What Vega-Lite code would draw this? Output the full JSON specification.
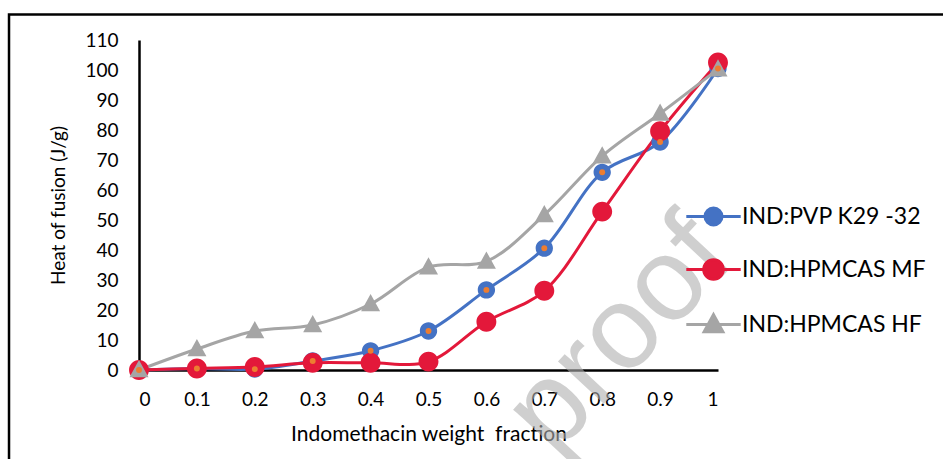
{
  "$schema": "https://vega.github.io/schema/vega-lite/v6.json",
  "width": 579,
  "height": 330,
  "autosize": "none",
  "padding": {"left": 139, "top": 40, "right": 225, "bottom": 89},
  "background": "white",
  "config": {
    "view": {"stroke": null},
    "font": "Lato",
    "axis": {"grid": false, "ticks": false, "domainColor": "black", "domainWidth": 2.5, "labelColor": "black", "titleColor": "black", "labelFont": "Lato", "titleFont": "Lato", "titleFontWeight": "normal", "labelOverlap": false}
  },
  "datasets": {
    "main": [
      {"series": "IND:PVP K29 -32", "x": 0, "y": 0},
      {"series": "IND:PVP K29 -32", "x": 0.1, "y": 0.5},
      {"series": "IND:PVP K29 -32", "x": 0.2, "y": 0.3},
      {"series": "IND:PVP K29 -32", "x": 0.3, "y": 3},
      {"series": "IND:PVP K29 -32", "x": 0.4, "y": 6.4},
      {"series": "IND:PVP K29 -32", "x": 0.5, "y": 13},
      {"series": "IND:PVP K29 -32", "x": 0.6, "y": 26.7},
      {"series": "IND:PVP K29 -32", "x": 0.7, "y": 40.6},
      {"series": "IND:PVP K29 -32", "x": 0.8, "y": 65.9},
      {"series": "IND:PVP K29 -32", "x": 0.9, "y": 76},
      {"series": "IND:PVP K29 -32", "x": 1, "y": 100.5},
      {"series": "IND:HPMCAS MF", "x": 0, "y": 0},
      {"series": "IND:HPMCAS MF", "x": 0.1, "y": 0.5},
      {"series": "IND:HPMCAS MF", "x": 0.2, "y": 1},
      {"series": "IND:HPMCAS MF", "x": 0.3, "y": 2.4},
      {"series": "IND:HPMCAS MF", "x": 0.4, "y": 2.4},
      {"series": "IND:HPMCAS MF", "x": 0.5, "y": 2.8},
      {"series": "IND:HPMCAS MF", "x": 0.6, "y": 16.1},
      {"series": "IND:HPMCAS MF", "x": 0.7, "y": 26.4},
      {"series": "IND:HPMCAS MF", "x": 0.8, "y": 52.8},
      {"series": "IND:HPMCAS MF", "x": 0.9, "y": 79.6},
      {"series": "IND:HPMCAS MF", "x": 1, "y": 102.5},
      {"series": "IND:HPMCAS HF", "x": 0, "y": 0},
      {"series": "IND:HPMCAS HF", "x": 0.1, "y": 7},
      {"series": "IND:HPMCAS HF", "x": 0.2, "y": 13},
      {"series": "IND:HPMCAS HF", "x": 0.3, "y": 15},
      {"series": "IND:HPMCAS HF", "x": 0.4, "y": 22},
      {"series": "IND:HPMCAS HF", "x": 0.5, "y": 34.3},
      {"series": "IND:HPMCAS HF", "x": 0.6, "y": 36.2},
      {"series": "IND:HPMCAS HF", "x": 0.7, "y": 51.7},
      {"series": "IND:HPMCAS HF", "x": 0.8, "y": 71.3},
      {"series": "IND:HPMCAS HF", "x": 0.9, "y": 85.5},
      {"series": "IND:HPMCAS HF", "x": 1, "y": 100.3}
    ]
  },
  "data": {"name": "main"},
  "layer": [
    {
      "mark": {"type": "line", "interpolate": "catmull-rom", "strokeWidth": 3, "clip": false},
      "encoding": {
        "x": {"field": "x", "type": "quantitative", "scale": {"domain": [0, 1], "nice": false, "zero": false},
          "axis": {"values": [0, 0.1, 0.2, 0.3, 0.4, 0.5, 0.6, 0.7, 0.8, 0.9, 1], "format": ".1~f", "labelFontSize": 19, "labelPadding": 20, "title": "Indomethacin weight\u00a0 fraction", "titleFontSize": 21, "titlePadding": 14}},
        "y": {"field": "y", "type": "quantitative", "scale": {"domain": [0, 110], "nice": false, "zero": false},
          "axis": {"values": [0, 10, 20, 30, 40, 50, 60, 70, 80, 90, 100, 110], "labelFontSize": 19, "labelPadding": 21, "title": "Heat of fusion (J/g)", "titleFontSize": 19, "titlePadding": 16}},
        "color": {"field": "series", "type": "nominal", "sort": ["IND:PVP K29 -32", "IND:HPMCAS MF", "IND:HPMCAS HF"],
          "scale": {"domain": ["IND:PVP K29 -32", "IND:HPMCAS MF", "IND:HPMCAS HF"], "range": ["#4472C4", "#E3183A", "#A5A5A5"]},
          "legend": {"title": null, "orient": "none", "legendX": 563, "legendY": 165, "padding": 0, "rowPadding": 22, "labelFontSize": 23, "labelLimit": 400, "labelFont": "Lato", "labelColor": "black", "labelOffset": 17, "symbolSize": 289, "symbolStrokeWidth": 3,
            "encode": {"symbols": {"update": {"strokeWidth": {"value": 3}, "opacity": {"value": 1}, "fill": {"scale": "color", "field": "value"}, "stroke": {"scale": "color", "field": "value"}}}}}},
        "detail": {"field": "series"}
      }
    },
    {
      "mark": {"type": "point", "filled": true, "opacity": 1, "strokeWidth": 0, "size": 300, "clip": false},
      "encoding": {
        "x": {"field": "x", "type": "quantitative", "scale": {"domain": [0, 1], "nice": false, "zero": false},
          "axis": {"values": [0, 0.1, 0.2, 0.3, 0.4, 0.5, 0.6, 0.7, 0.8, 0.9, 1], "format": ".1~f", "labelFontSize": 19, "labelPadding": 20, "title": "Indomethacin weight\u00a0 fraction", "titleFontSize": 21, "titlePadding": 14}},
        "y": {"field": "y", "type": "quantitative", "scale": {"domain": [0, 110], "nice": false, "zero": false},
          "axis": {"values": [0, 10, 20, 30, 40, 50, 60, 70, 80, 90, 100, 110], "labelFontSize": 19, "labelPadding": 21, "title": "Heat of fusion (J/g)", "titleFontSize": 19, "titlePadding": 16}},
        "color": {"field": "series", "type": "nominal", "sort": ["IND:PVP K29 -32", "IND:HPMCAS MF", "IND:HPMCAS HF"],
          "scale": {"domain": ["IND:PVP K29 -32", "IND:HPMCAS MF", "IND:HPMCAS HF"], "range": ["#4472C4", "#E3183A", "#A5A5A5"]},
          "legend": {"title": null, "orient": "none", "legendX": 563, "legendY": 165, "padding": 0, "rowPadding": 22, "labelFontSize": 23, "labelLimit": 400, "labelFont": "Lato", "labelColor": "black", "labelOffset": 17, "symbolSize": 289, "symbolStrokeWidth": 3,
            "encode": {"symbols": {"update": {"strokeWidth": {"value": 3}, "opacity": {"value": 1}, "fill": {"scale": "color", "field": "value"}, "stroke": {"scale": "color", "field": "value"}}}}}},
        "shape": {"field": "series", "type": "nominal", "sort": ["IND:PVP K29 -32", "IND:HPMCAS MF", "IND:HPMCAS HF"],
          "scale": {"domain": ["IND:PVP K29 -32", "IND:HPMCAS MF", "IND:HPMCAS HF"], "range": [
            "M-3.2,0H3.2M1,0A1,1,0,1,1,-1,0A1,1,0,1,1,1,0Z",
            "M-3.2,0H3.2M1.15,0A1.15,1.15,0,1,1,-1.15,0A1.15,1.15,0,1,1,1.15,0Z",
            "M-3.2,0H3.2M0,-1.15L1.1,0.85L-1.1,0.85Z"
          ]},
          "legend": {"title": null, "orient": "none", "legendX": 563, "legendY": 165, "padding": 0, "rowPadding": 22, "labelFontSize": 23, "labelLimit": 400, "labelFont": "Lato", "labelColor": "black", "labelOffset": 17, "symbolSize": 289, "symbolStrokeWidth": 3,
            "encode": {"symbols": {"update": {"strokeWidth": {"value": 3}, "opacity": {"value": 1}, "fill": {"scale": "color", "field": "value"}, "stroke": {"scale": "color", "field": "value"}}}}}}
      }
    },
    {
      "transform": [{"filter": "datum.series == 'IND:PVP K29 -32'"}],
      "mark": {"type": "circle", "color": "#ED7D31", "size": 35, "opacity": 1, "clip": false},
      "encoding": {
        "x": {"field": "x", "type": "quantitative", "scale": {"domain": [0, 1], "nice": false, "zero": false},
          "axis": {"values": [0, 0.1, 0.2, 0.3, 0.4, 0.5, 0.6, 0.7, 0.8, 0.9, 1], "format": ".1~f", "labelFontSize": 19, "labelPadding": 20, "title": "Indomethacin weight\u00a0 fraction", "titleFontSize": 21, "titlePadding": 14}},
        "y": {"field": "y", "type": "quantitative", "scale": {"domain": [0, 110], "nice": false, "zero": false},
          "axis": {"values": [0, 10, 20, 30, 40, 50, 60, 70, 80, 90, 100, 110], "labelFontSize": 19, "labelPadding": 21, "title": "Heat of fusion (J/g)", "titleFontSize": 19, "titlePadding": 16}}
      }
    },
    {
      "data": {"values": [{"label": "proof"}]},
      "mark": {"type": "text", "text": "proof", "font": "Liberation Sans", "fontSize": 118, "angle": 313, "align": "center", "baseline": "middle", "fill": "#b0b0b0", "opacity": 0.6, "clip": false},
      "encoding": {
        "x": {"datum": 0.83, "type": "quantitative", "scale": {"domain": [0, 1], "nice": false, "zero": false},
          "axis": {"values": [0, 0.1, 0.2, 0.3, 0.4, 0.5, 0.6, 0.7, 0.8, 0.9, 1], "format": ".1~f", "labelFontSize": 19, "labelPadding": 20, "title": "Indomethacin weight\u00a0 fraction", "titleFontSize": 21, "titlePadding": 14}},
        "y": {"datum": 11.5, "type": "quantitative", "scale": {"domain": [0, 110], "nice": false, "zero": false},
          "axis": {"values": [0, 10, 20, 30, 40, 50, 60, 70, 80, 90, 100, 110], "labelFontSize": 19, "labelPadding": 21, "title": "Heat of fusion (J/g)", "titleFontSize": 19, "titlePadding": 16}}
      }
    },
    {
      "data": {"values": [{"frame": 1}]},
      "mark": {"type": "rect", "fill": null, "stroke": "black", "strokeWidth": 2.5, "clip": false},
      "encoding": {
        "x": {"datum": -0.2245, "type": "quantitative", "scale": {"domain": [0, 1], "nice": false, "zero": false},
          "axis": {"values": [0, 0.1, 0.2, 0.3, 0.4, 0.5, 0.6, 0.7, 0.8, 0.9, 1], "format": ".1~f", "labelFontSize": 19, "labelPadding": 20, "title": "Indomethacin weight\u00a0 fraction", "titleFontSize": 21, "titlePadding": 14}},
        "x2": {"datum": 1.7},
        "y": {"datum": 118.5, "type": "quantitative", "scale": {"domain": [0, 110], "nice": false, "zero": false},
          "axis": {"values": [0, 10, 20, 30, 40, 50, 60, 70, 80, 90, 100, 110], "labelFontSize": 19, "labelPadding": 21, "title": "Heat of fusion (J/g)", "titleFontSize": 19, "titlePadding": 16}},
        "y2": {"datum": -60}
      }
    }
  ]
}
